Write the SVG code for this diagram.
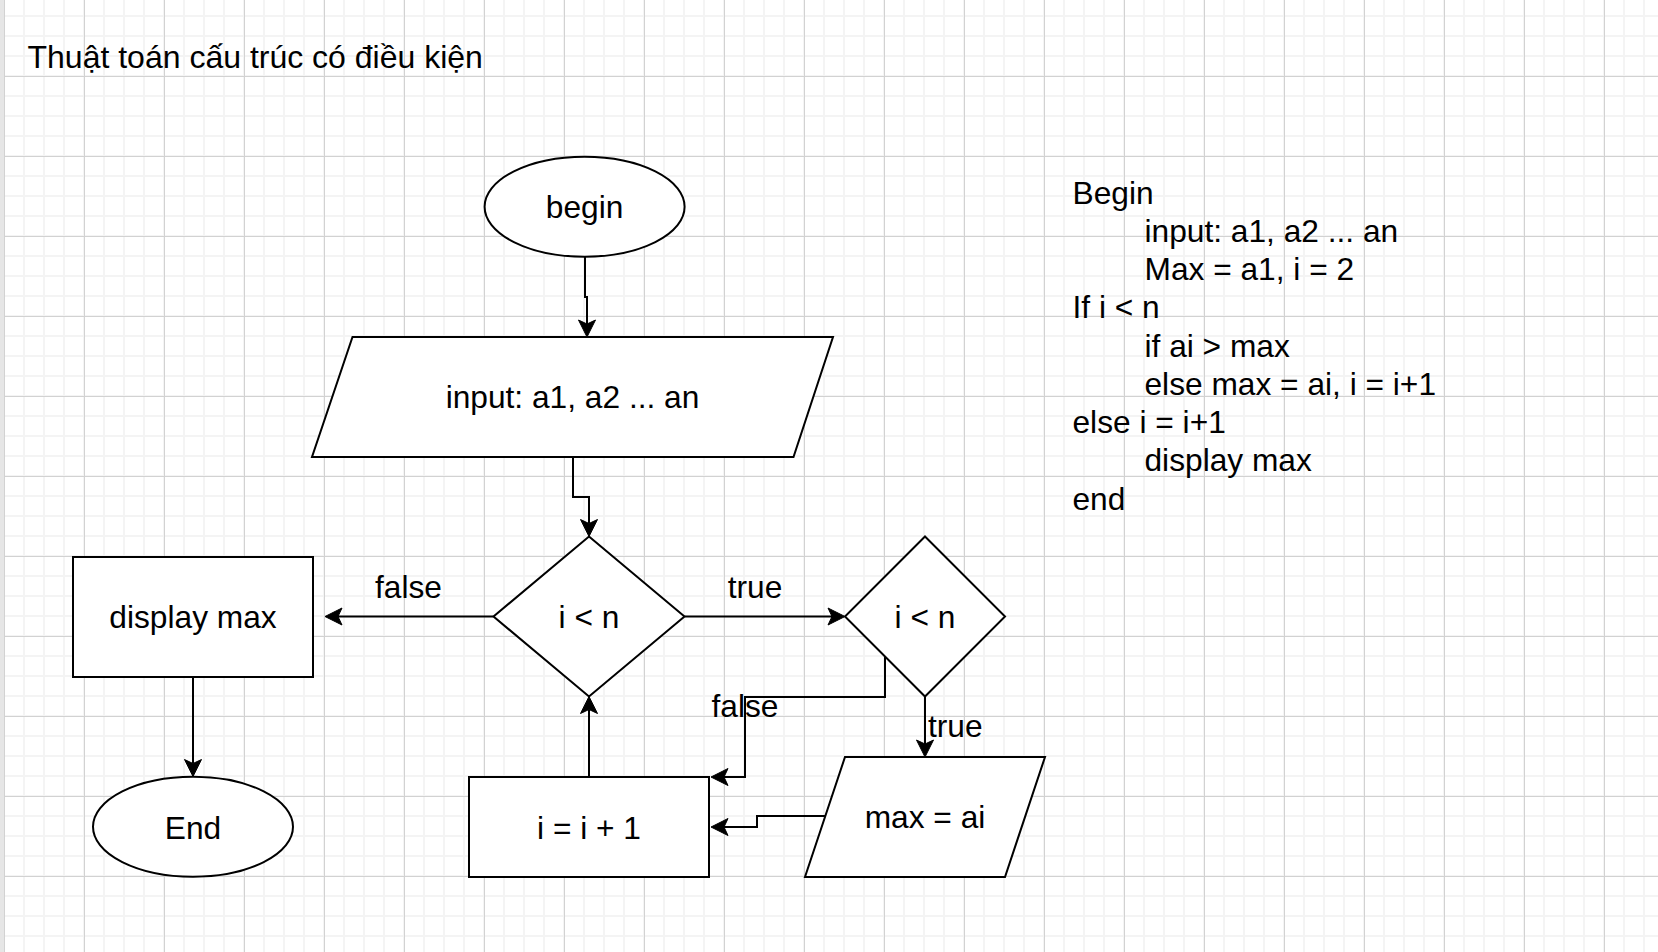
<svg xmlns="http://www.w3.org/2000/svg" width="1658" height="952" viewBox="0 0 1658 952">
  <style>
    text { font-family: "Liberation Sans", Arial, Helvetica, sans-serif; font-size: 31.7px; fill: #000; }
    .c { text-anchor: middle; }
    .shape { fill: #fff; stroke: #000; stroke-width: 2; }
    .edge { fill: none; stroke: #000; stroke-width: 2; marker-end: url(#arrow); }
  </style>
  <defs>
    <pattern id="gridMinor" x="3" y="15" width="20" height="20" patternUnits="userSpaceOnUse">
      <rect x="0" y="0" width="2" height="20" fill="#f4f4f4"/>
      <rect x="0" y="0" width="20" height="2" fill="#f4f4f4"/>
    </pattern>
    <pattern id="gridMajor" x="4" y="76" width="80" height="80" patternUnits="userSpaceOnUse">
      <rect x="0" y="0" width="1" height="80" fill="#d2d2d2"/>
      <rect x="0" y="0" width="80" height="1" fill="#d2d2d2"/>
    </pattern>
    <marker id="arrow" viewBox="-18 -10 20 20" markerWidth="20" markerHeight="20" refX="-13" refY="0" orient="auto" markerUnits="userSpaceOnUse">
      <path d="M0,0 L-17,-8.5 L-13,0 L-17,8.5 Z" fill="#000" stroke="#000" stroke-width="1" stroke-linejoin="miter"/>
    </marker>
  </defs>

  <g id="background">
    <rect x="0" y="0" width="1658" height="952" fill="#fff"/>
    <rect x="0" y="0" width="1658" height="952" fill="url(#gridMinor)"/>
    <rect x="0" y="0" width="1658" height="952" fill="url(#gridMajor)"/>
    <rect x="0" y="0" width="4" height="952" fill="#e6e6e6"/>
  </g>

  <g id="title">
    <text x="27.5" y="68" style="font-size:32px">Thuật toán cấu trúc có điều kiện</text>
  </g>

  <g id="connectors">
    <path class="edge" d="M585 257 V297 H587 V324"/>
    <path class="edge" d="M573 457 V497 H589 V523.5"/>
    <path class="edge" d="M493.5 616.5 H338"/>
    <path class="edge" d="M684.5 616.5 H832"/>
    <path class="edge" d="M925 696.5 V744"/>
    <path class="edge" d="M885 656.5 V697 H745 V777 H724"/>
    <path class="edge" d="M825 816 H757 V827 H724"/>
    <path class="edge" d="M589 777 V709.5"/>
    <path class="edge" d="M193 677 V763.5"/>
    <text class="c" x="408.5" y="597.5">false</text>
    <text class="c" x="755" y="597.5">true</text>
    <text class="c" x="745" y="717">false</text>
    <text x="928" y="737">true</text>
  </g>

  <g id="begin">
    <ellipse class="shape" cx="584.6" cy="206.7" rx="100" ry="50"/>
    <text class="c" x="584.6" y="217.8">begin</text>
  </g>

  <g id="input">
    <polygon class="shape" points="352.5,337 833,337 793.5,457 312,457"/>
    <text class="c" x="572.5" y="408">input: a1, a2 ... an</text>
  </g>

  <g id="cond1">
    <polygon class="shape" points="589,536.5 684.5,616.5 589,696.5 493.5,616.5"/>
    <text class="c" x="589" y="628">i &lt; n</text>
  </g>

  <g id="cond2">
    <polygon class="shape" points="925,536.5 1005,616.5 925,696.5 845,616.5"/>
    <text class="c" x="925" y="628">i &lt; n</text>
  </g>

  <g id="display">
    <rect class="shape" x="73" y="557" width="240" height="120"/>
    <text class="c" x="193" y="628">display max</text>
  </g>

  <g id="end">
    <ellipse class="shape" cx="193" cy="826.7" rx="100" ry="50"/>
    <text class="c" x="193" y="838.5">End</text>
  </g>

  <g id="increment">
    <rect class="shape" x="469" y="777" width="240" height="100"/>
    <text class="c" x="589" y="838.5">i = i + 1</text>
  </g>

  <g id="assign">
    <polygon class="shape" points="845,757 1045,757 1005,877 805,877"/>
    <text class="c" x="925" y="828">max = ai</text>
  </g>

  <g id="pseudocode">
    <text x="1072.5" y="203.5">Begin</text>
    <text x="1144.5" y="241.75">input: a1, a2 ... an</text>
    <text x="1144.5" y="280">Max = a1, i = 2</text>
    <text x="1072.5" y="318.25">If i &lt; n</text>
    <text x="1144.5" y="356.5">if ai &gt; max</text>
    <text x="1144.5" y="394.75">else max = ai, i = i+1</text>
    <text x="1072.5" y="433">else i = i+1</text>
    <text x="1144.5" y="471.25">display max</text>
    <text x="1072.5" y="509.5">end</text>
  </g>
</svg>
